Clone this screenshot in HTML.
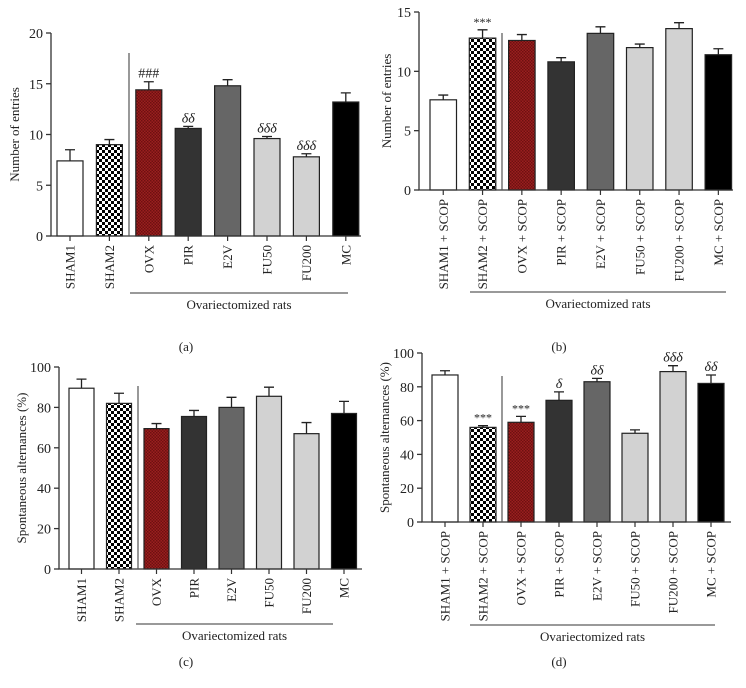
<!DOCTYPE html>
<html><head><meta charset="utf-8">
<style>
html,body{margin:0;padding:0;background:#fff;}
svg{display:block;font-family:"Liberation Serif",serif;}
</style></head>
<body>
<svg id="fig" width="746" height="688" viewBox="0 0 746 688">
<defs>
<pattern id="checker" width="6" height="6" patternUnits="userSpaceOnUse">
<rect width="6" height="6" fill="#fff"/><rect width="3" height="3" fill="#000"/><rect x="3" y="3" width="3" height="3" fill="#000"/>
</pattern>
<pattern id="redtex" width="3" height="3" patternUnits="userSpaceOnUse">
<rect width="3" height="3" fill="#9a1f1f"/><rect width="1.5" height="1.5" fill="#6e1010"/><rect x="1.5" y="1.5" width="1.5" height="1.5" fill="#6e1010"/>
</pattern>
</defs>
</svg>
<script>
// shared category data
const catsA = ["SHAM1","SHAM2","OVX","PIR","E2V","FU50","FU200","MC"];
const catsB = ["SHAM1 + SCOP","SHAM2 + SCOP","OVX + SCOP","PIR + SCOP","E2V + SCOP","FU50 + SCOP","FU200 + SCOP","MC + SCOP"];
// panel a
const valsA = [7.4, 9.0, 14.4, 10.6, 14.8, 9.6, 7.8, 13.2];
const errA = [1.1, 0.5, 0.8, 0.2, 0.6, 0.2, 0.3, 0.9];
const sigA = ["", "", "###", "δδ", "", "δδδ", "δδδ", ""];
const ticksA = [0, 5, 10, 15, 20];
// panel b
const valsB = [7.6, 12.8, 12.6, 10.8, 13.2, 12.0, 13.6, 11.4];
const errB = [0.4, 0.7, 0.5, 0.35, 0.55, 0.3, 0.5, 0.5];
const sigB = ["", "***", "", "", "", "", "", ""];
const ticksB = [0, 5, 10, 15];
// panel c
const valsC = [89.5, 82, 69.5, 75.5, 80, 85.5, 67, 77];
const errC = [4.5, 5, 2.5, 3, 5, 4.5, 5.5, 6];
const sigC = ["", "", "", "", "", "", "", ""];
const ticksC = [0, 20, 40, 60, 80, 100];
// panel d
const valsD = [87, 56, 59, 72, 83, 52.5, 89, 82];
const errD = [2.5, 1, 3.5, 5, 2, 2, 3.5, 5];
const sigD = ["", "***", "***", "δ", "δδ", "", "δδδ", "δδ"];
const ticksD = [0, 20, 40, 60, 80, 100];

const fills = ["#fff","url(#checker)","url(#redtex)","#333","#666","#d2d2d2","#d2d2d2","#000"];
const NS = "http://www.w3.org/2000/svg";
const svg = document.getElementById("fig");
function el(tag, attrs, parent, txt){
  const e = document.createElementNS(NS, tag);
  for (const k in attrs) e.setAttribute(k, attrs[k]);
  if (txt !== undefined) e.textContent = txt;
  parent.appendChild(e); return e;
}
function panel(id, cats, vals, errs, sigs, ticks, L, yTitle, letter){
  const g = el("g", {}, svg);
  
  
  const ymax = ticks[ticks.length-1];
  const y = v => L.y0 - (v / ymax) * (L.y0 - L.y1);
  const xL = i => L.bx0 + i * L.step;
  // bars
  vals.forEach((v, i) => {
    const x = xL(i), yt = y(v), ye = y(v + errs[i]);
    const eb = el("path", {d:`M${x+L.bw/2} ${yt}V${ye}M${x+L.bw/2-5} ${ye}H${x+L.bw/2+5}`, stroke:"#222", "stroke-width":1.3, fill:"none"}, g);
    
    
    const r = el("rect", {x:x, y:yt, width:L.bw, height:L.y0 - yt, fill:fills[i], stroke:"#222", "stroke-width":1.2}, g);
    
    
    if (sigs[i]) {
      const s = el("text", {x:x + L.bw/2, y:ye - 4, "text-anchor":"middle", "font-size": sigs[i].includes("*") ? 12 : 14, "font-style": sigs[i].includes("δ") ? "italic" : "normal", fill:"#222"}, g, sigs[i]);
      
      
    }
    const tx = x + L.bw/2;
    el("line", {x1:tx, x2:tx, y1:L.y0, y2:L.y0+5, stroke:"#333", "stroke-width":1.2}, g);
    const lab = el("text", {x:tx + 4.5, y:L.y0 + 9, "text-anchor":"end", "font-size":13, fill:"#222", transform:`rotate(-90 ${tx+4.5} ${L.y0+9})`}, g, cats[i]);
    
    
  });
  // axes
  const ax = el("path", {d:`M${L.ax} ${y(ymax)}V${L.y0}H${L.axEnd}`, stroke:"#333", "stroke-width":1.3, fill:"none"}, g);
  
  
  ticks.forEach(t => {
    el("line", {x1:L.ax-5, x2:L.ax, y1:y(t), y2:y(t), stroke:"#333", "stroke-width":1.3}, g);
    const tl = el("text", {x:L.ax-8, y:y(t)+5, "text-anchor":"end", "font-size":14, fill:"#222"}, g, t);
    
    
  });
  const yt = el("text", {x:0, y:0, "text-anchor":"middle", "font-size":13, fill:"#222", transform:`translate(${L.titleX} ${(L.y0 + y(ymax))/2}) rotate(-90)`}, g, yTitle);
  
  
  // divider
  const dv = el("line", {x1:L.div, x2:L.div, y1:L.divTop, y2:L.y0, stroke:"#555", "stroke-width":1.2}, g);
  
  
  const ul = el("line", {x1:L.ul0, x2:L.ul1, y1:L.uly, y2:L.uly, stroke:"#333", "stroke-width":1}, g);
  
  
  const gl = el("text", {x:(L.ul0 + L.ul1)/2, y:L.uly + 16, "text-anchor":"middle", "font-size":13, fill:"#222"}, g, "Ovariectomized rats");
  
  
  const pl = el("text", {x:L.letterX, y:L.letterY, "text-anchor":"middle", "font-size":13, fill:"#222"}, g, letter);
  
  
}
panel("a", catsA, valsA, errA, sigA, ticksA,
  {ax:51, axEnd:361, y0:236, y1:33, bx0:57, step:39.4, bw:26, titleX:19, div:129, divTop:53, ul0:130, ul1:348, uly:293, letterX:186, letterY:351}, "Number of entries", "(a)");
panel("b", catsB, valsB, errB, sigB, ticksB,
  {ax:419, axEnd:733, y0:190, y1:12, bx0:430, step:39.3, bw:26.5, titleX:391, div:502, divTop:33, ul0:470, ul1:726, uly:292, letterX:559, letterY:351}, "Number of entries", "(b)");
panel("c", catsA, valsC, errC, sigC, ticksC,
  {ax:59, axEnd:362, y0:569, y1:367, bx0:69, step:37.5, bw:25, titleX:26, div:138, divTop:386, ul0:136, ul1:333, uly:624, letterX:186, letterY:666}, "Spontaneous alternances (%)", "(c)");
panel("d", catsB, valsD, errD, sigD, ticksD,
  {ax:422, axEnd:731, y0:522, y1:353, bx0:432, step:38, bw:26, titleX:389, div:502, divTop:376, ul0:470, ul1:715, uly:625, letterX:559, letterY:666}, "Spontaneous alternances (%)", "(d)");
</script>
</body></html>
